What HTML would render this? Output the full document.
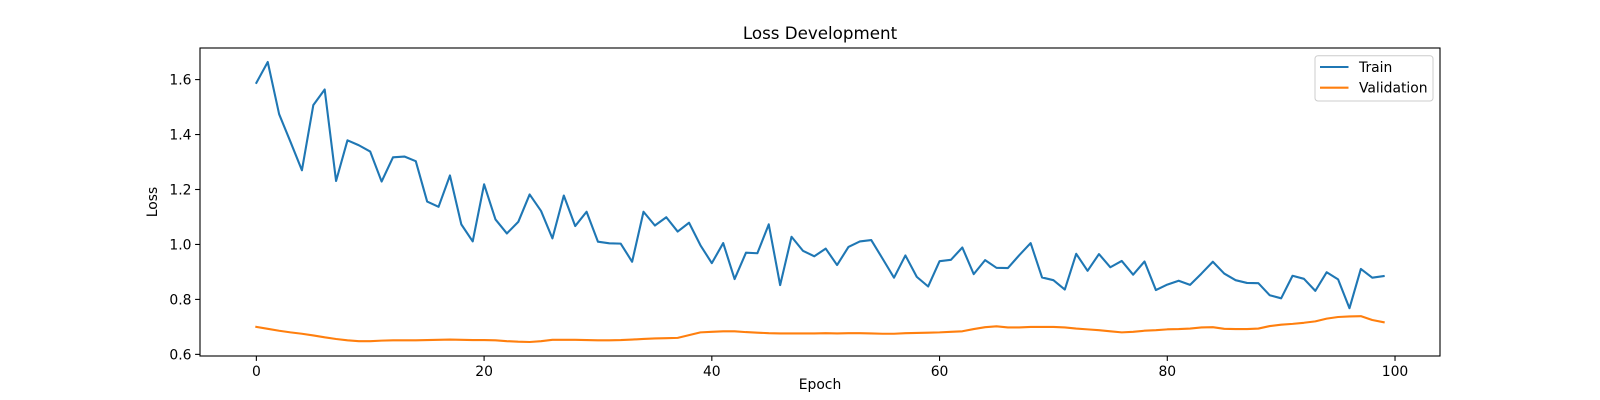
<!DOCTYPE html>
<html><head><meta charset="utf-8"><style>
html,body{margin:0;padding:0;background:#fff;}
svg{display:block;font-family:"DejaVu Sans","Liberation Sans",sans-serif;}
</style></head><body>
<svg id="chart" width="1600" height="400" viewBox="0 0 1600 400">
<rect x="0" y="0" width="1600" height="400" fill="#fff"/>
<text x="820" y="39" text-anchor="middle" font-size="16.7" fill="#000">Loss Development</text>
<g id="plot"></g>
<text x="820" y="389" text-anchor="middle" font-size="13.9" fill="#000">Epoch</text>
<text transform="translate(157,202) rotate(-90)" text-anchor="middle" font-size="13.9" fill="#000">Loss</text>
</svg>
<script>
const trainLoss = [1.588,1.664,1.474,1.373,1.270,1.507,1.564,1.231,1.379,1.361,1.338,1.229,1.317,1.320,1.303,1.156,1.137,1.251,1.073,1.011,1.219,1.091,1.040,1.082,1.182,1.122,1.022,1.178,1.067,1.119,1.010,1.004,1.003,0.937,1.119,1.069,1.099,1.047,1.079,0.997,0.932,1.005,0.874,0.970,0.968,1.073,0.852,1.028,0.977,0.957,0.985,0.925,0.991,1.011,1.016,0.948,0.879,0.960,0.882,0.847,0.939,0.944,0.989,0.892,0.943,0.915,0.914,0.961,1.005,0.880,0.870,0.836,0.966,0.904,0.965,0.917,0.940,0.890,0.938,0.834,0.854,0.868,0.853,0.894,0.937,0.894,0.870,0.860,0.859,0.815,0.804,0.886,0.875,0.831,0.899,0.873,0.768,0.911,0.879,0.885];
const valLoss = [0.700,0.693,0.686,0.680,0.675,0.669,0.662,0.656,0.651,0.648,0.648,0.650,0.651,0.651,0.651,0.652,0.653,0.654,0.653,0.652,0.652,0.651,0.648,0.646,0.645,0.648,0.653,0.653,0.653,0.652,0.651,0.651,0.652,0.654,0.656,0.658,0.659,0.660,0.670,0.680,0.682,0.684,0.684,0.681,0.679,0.677,0.676,0.676,0.676,0.676,0.677,0.676,0.677,0.677,0.676,0.675,0.675,0.677,0.678,0.679,0.680,0.682,0.684,0.692,0.699,0.702,0.698,0.698,0.700,0.700,0.700,0.698,0.694,0.691,0.688,0.684,0.680,0.682,0.686,0.688,0.691,0.692,0.694,0.698,0.699,0.693,0.692,0.692,0.694,0.703,0.708,0.711,0.715,0.720,0.730,0.736,0.738,0.739,0.725,0.717];
const xTicks = [0,20,40,60,80,100];
const yTicks = [0.6,0.8,1.0,1.2,1.4,1.6];
const yTickLabels = ["0.6","0.8","1.0","1.2","1.4","1.6"];

const NS = "http://www.w3.org/2000/svg";
const L = 200, R = 1440, T = 48, B = 356;
const n = trainLoss.length;
const xmin = -0.05*(n-1), xmax = (n-1)*1.05;
const all = trainLoss.concat(valLoss);
const dmin = Math.min(...all), dmax = Math.max(...all), pad = (dmax-dmin)*0.05;
const ymin = dmin - pad, ymax = dmax + pad;
const xs = v => L + (v - xmin) / (xmax - xmin) * (R - L);
const ys = v => B - (v - ymin) / (ymax - ymin) * (B - T);
const plot = document.getElementById('plot');
function mk(tag, attrs) {
  const e = document.createElementNS(NS, tag);
  for (const k in attrs) e.setAttribute(k, attrs[k]);
  plot.appendChild(e);
  return e;
}
function series(data, color, name) {
  const p = mk('polyline', {points: data.map((v,i)=>xs(i).toFixed(2)+','+ys(v).toFixed(2)).join(' '), fill:'none', stroke:color, 'stroke-width':2.1, 'stroke-linejoin':'round', 'stroke-linecap':'square'});
  
  
}
series(trainLoss, '#1f77b4', 'train-line');
series(valLoss, '#ff7f0e', 'validation-line');

xTicks.forEach(t => {
  const x = xs(t);
  const tk = mk('line', {x1:x, x2:x, y1:B, y2:B+4.9, stroke:'#000', 'stroke-width':1.1});
  
  
  const lb = mk('text', {x:x, y:B+20, 'text-anchor':'middle', 'font-size':13.9, fill:'#000'});
  lb.textContent = String(t);
  
  
});
yTicks.forEach((t, i) => {
  const y = ys(t);
  const tk = mk('line', {x1:L-4.9, x2:L, y1:y, y2:y, stroke:'#000', 'stroke-width':1.1});
  
  
  const lb = mk('text', {x:L-8.5, y:y+5, 'text-anchor':'end', 'font-size':13.9, fill:'#000'});
  lb.textContent = yTickLabels[i];
  
  
});
const frame = mk('rect', {x:L, y:T, width:R-L, height:B-T, fill:'none', stroke:'#000', 'stroke-width':1.1});



const lg = mk('rect', {x:1315, y:55.7, width:118, height:45.3, rx:3, fill:'#fff', 'fill-opacity':0.8, stroke:'#ccc', 'stroke-width':1});


[['Train','#1f77b4',67],['Validation','#ff7f0e',87.7]].forEach(([name,color,y]) => {
  const ln = mk('line', {x1:1320, x2:1348.5, y1:y, y2:y, stroke:color, 'stroke-width':2.1});
  
  
  const tx = mk('text', {x:1359, y:y+5, 'font-size':13.9, fill:'#000'});
  tx.textContent = name;
  
  
});
</script>
</body></html>
